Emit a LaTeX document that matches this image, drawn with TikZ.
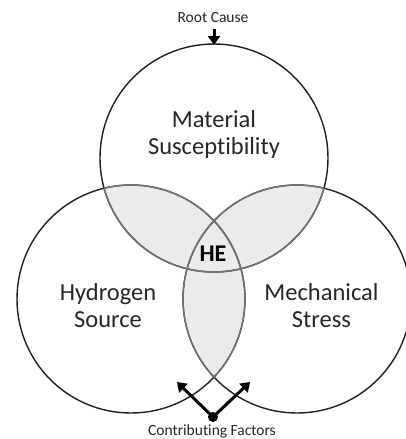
\documentclass[tikz,border=0pt]{standalone}
\usepackage{fontspec}
\setmainfont{Carlito}[Ligatures=NoCommon]
\usetikzlibrary{arrows.meta}
\begin{document}
\begin{tikzpicture}[x=1pt,y=-1pt,
  ring/.style={draw=black!88,line width=1.4pt},
  innerring/.style={draw=black!55,line width=1.4pt},
  lens/.style={fill=black!8},
  lbl/.style={align=center,font=\fontsize{24.5}{27}\selectfont,text=black!85},
  small/.style={font=\fontsize{15.5}{18}\selectfont,text=black!85},
  bigarrow/.style={line width=3pt,-{Triangle[length=9pt,width=12pt]}}]
\useasboundingbox (0,0) rectangle (405,439);
\coordinate (T) at (214,158);
\coordinate (L) at (131,299);
\coordinate (R) at (297,299);
% gray overlaps
\begin{scope}
  \clip (T) circle[radius=114pt];
  \fill[lens] (L) circle[radius=114pt];
  \fill[lens] (R) circle[radius=114pt];
\end{scope}
\begin{scope}
  \clip (L) circle[radius=114pt];
  \fill[lens] (R) circle[radius=114pt];
\end{scope}
% outer circles
\draw[ring] (T) circle[radius=114pt];
\draw[ring] (L) circle[radius=114pt];
\draw[ring] (R) circle[radius=114pt];
% inner arcs lighter
\begin{scope}
  \clip (L) circle[radius=114pt];
  \draw[innerring] (T) circle[radius=114pt];
  \draw[innerring] (R) circle[radius=114pt];
\end{scope}
\begin{scope}
  \clip (R) circle[radius=114pt];
  \draw[innerring] (T) circle[radius=114pt];
  \draw[innerring] (L) circle[radius=114pt];
\end{scope}
\begin{scope}
  \clip (T) circle[radius=114pt];
  \draw[innerring] (L) circle[radius=114pt];
  \draw[innerring] (R) circle[radius=114pt];
\end{scope}
% labels
\node[lbl] (mat) at (214,134) {Material\\Susceptibility};
\node[lbl] (hyd) at (108,306) {Hydrogen\\Source};
\node[lbl] (mech) at (321.5,306) {Mechanical\\Stress};
\node[lbl,font=\fontsize{24}{27}\selectfont\bfseries,text=black] (he) at (213,254) {HE};
% root cause
\node[small] (root) at (213,18) {Root Cause};
\coordinate (rootstart) at (214,29);
\coordinate (Ttop) at (214,45);
\draw[bigarrow] (rootstart) -- (Ttop);
% contributing factors
\node[circle,fill=black,inner sep=0pt,minimum size=10pt] (dot) at (213,417) {};
\coordinate (cfL) at (177,382);
\coordinate (cfR) at (250,382);
\draw[bigarrow] (dot.center) -- (cfL);
\draw[bigarrow] (dot.center) -- (cfR);
\node[small] (contrib) at (212,431) {Contributing Factors};
\end{tikzpicture}
\end{document}
